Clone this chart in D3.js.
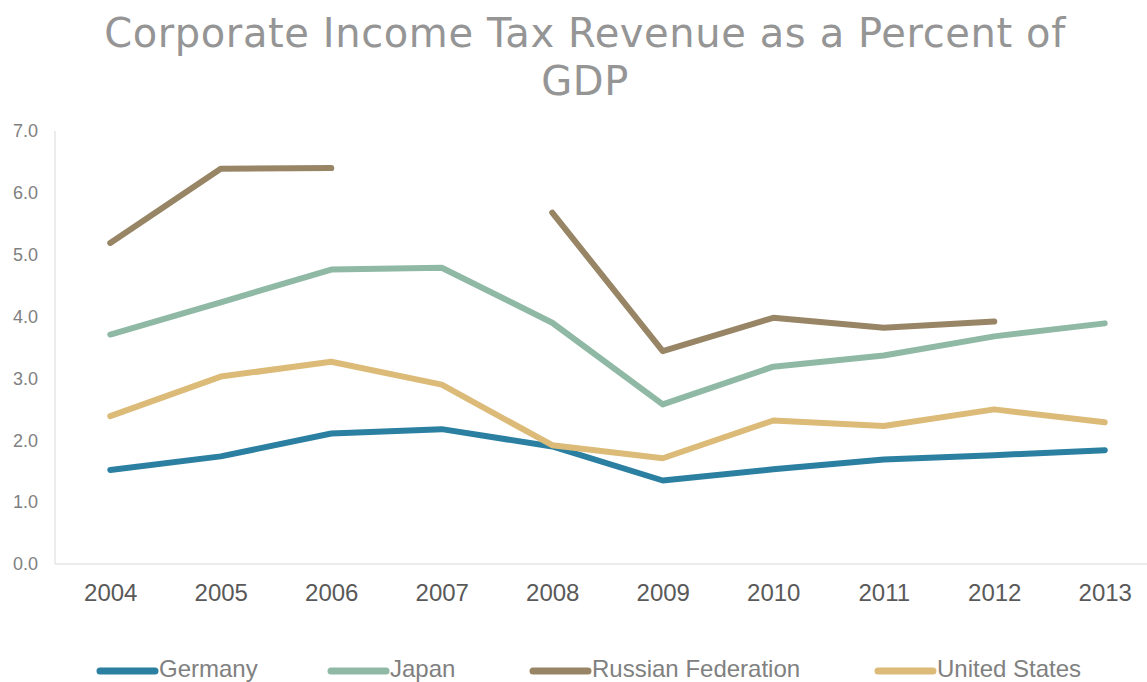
<!DOCTYPE html>
<html>
<head>
<meta charset="utf-8">
<script src="https://cdn.jsdelivr.net/npm/d3@7"></script>
<style>
  html, body { margin: 0; padding: 0; background: #ffffff; }
  svg { display: block; }
</style>
</head>
<body>
<svg id="chart" width="1147" height="682"></svg>
<script>
// Corporate income tax revenue, % of GDP
const years = ["2004", "2005", "2006", "2007", "2008", "2009", "2010", "2011", "2012", "2013"];
const germany = [1.52, 1.74, 2.11, 2.18, 1.90, 1.35, 1.53, 1.69, 1.76, 1.84];
const japan   = [3.71, 4.23, 4.76, 4.79, 3.90, 2.58, 3.19, 3.37, 3.68, 3.89];
const russia  = [5.19, 6.39, 6.40, null, 5.68, 3.44, 3.98, 3.82, 3.92, null];
const unitedStates = [2.39, 3.03, 3.27, 2.90, 1.92, 1.71, 2.32, 2.23, 2.50, 2.29];
const yTicks = [0, 1, 2, 3, 4, 5, 6, 7];
const seriesNames = ["Germany", "Japan", "Russian Federation", "United States"];
const seriesColors = ["#2b7fa0", "#8fb9a5", "#988566", "#dcbb78"];

const series = [germany, japan, russia, unitedStates].map((vals, i) => ({
  name: seriesNames[i],
  color: seriesColors[i],
  values: vals.map((v, j) => ({ year: years[j], value: v }))
}));

const svg = d3.select("#chart");
const plot = { left: 55, right: 1160, top: 131, bottom: 564 };

const x = d3.scalePoint().domain(years).range([plot.left, plot.right]).padding(0.5);
const y = d3.scaleLinear().domain([0, 7]).range([plot.bottom, plot.top]);

// Title
const title = svg.append("text")
  .attr("x", 585)
  .attr("text-anchor", "middle")
  .attr("fill", "#959595")
  .style("font-family", "'DejaVu Sans', sans-serif")
  .style("font-size", "40px")
  .style("letter-spacing", "0.6px");
title.append("tspan").attr("x", 585).attr("y", 47).text("Corporate Income Tax Revenue as a Percent of");
title.append("tspan").attr("x", 585).attr("y", 95).text("GDP");

// Axis lines
svg.append("line")
  .attr("x1", plot.left).attr("x2", plot.left)
  .attr("y1", plot.top).attr("y2", plot.bottom)
  .attr("stroke", "#d9d9d9").attr("stroke-width", 1);
svg.append("line")
  .attr("x1", plot.left).attr("x2", 1147)
  .attr("y1", plot.bottom).attr("y2", plot.bottom)
  .attr("stroke", "#d9d9d9").attr("stroke-width", 1);

// Y axis labels
const yAxis = d3.axisLeft(y).tickValues(yTicks).tickFormat(d3.format(".1f")).tickSize(0).tickPadding(17);
const gy = svg.append("g").attr("transform", `translate(${plot.left},0)`).call(yAxis);
gy.select(".domain").remove();
gy.selectAll("text")
  .attr("fill", "#808080")
  .style("font-family", "'Liberation Sans', Arial, sans-serif")
  .style("font-size", "18px");

// X axis labels
const xAxis = d3.axisBottom(x).tickSize(0).tickPadding(20);
const gx = svg.append("g").attr("transform", `translate(0,${plot.bottom})`).call(xAxis);
gx.select(".domain").remove();
gx.selectAll("text")
  .attr("fill", "#595959")
  .style("font-family", "'Liberation Sans', Arial, sans-serif")
  .style("font-size", "24px");

// Lines
const line = d3.line()
  .defined(d => d.value !== null)
  .x(d => x(d.year))
  .y(d => y(d.value));

svg.append("g").selectAll("path")
  .data(series)
  .join("path")
  .attr("d", d => line(d.values))
  .attr("fill", "none")
  .attr("stroke", d => d.color)
  .attr("stroke-width", 6)
  .attr("stroke-linecap", "round")
  .attr("stroke-linejoin", "round");

// Legend
const legendX = [100, 331, 533, 878];
const legend = svg.append("g").selectAll("g")
  .data(series)
  .join("g")
  .attr("transform", (d, i) => `translate(${legendX[i]},671)`);
legend.append("line")
  .attr("x1", 0).attr("x2", 55)
  .attr("y1", 0).attr("y2", 0)
  .attr("stroke", d => d.color)
  .attr("stroke-width", 7)
  .attr("stroke-linecap", "round");
legend.append("text")
  .attr("x", 59).attr("y", 6)
  .attr("fill", "#808080")
  .style("font-family", "'Liberation Sans', Arial, sans-serif")
  .style("font-size", "24px")
  .text(d => d.name);
</script>
</body>
</html>
